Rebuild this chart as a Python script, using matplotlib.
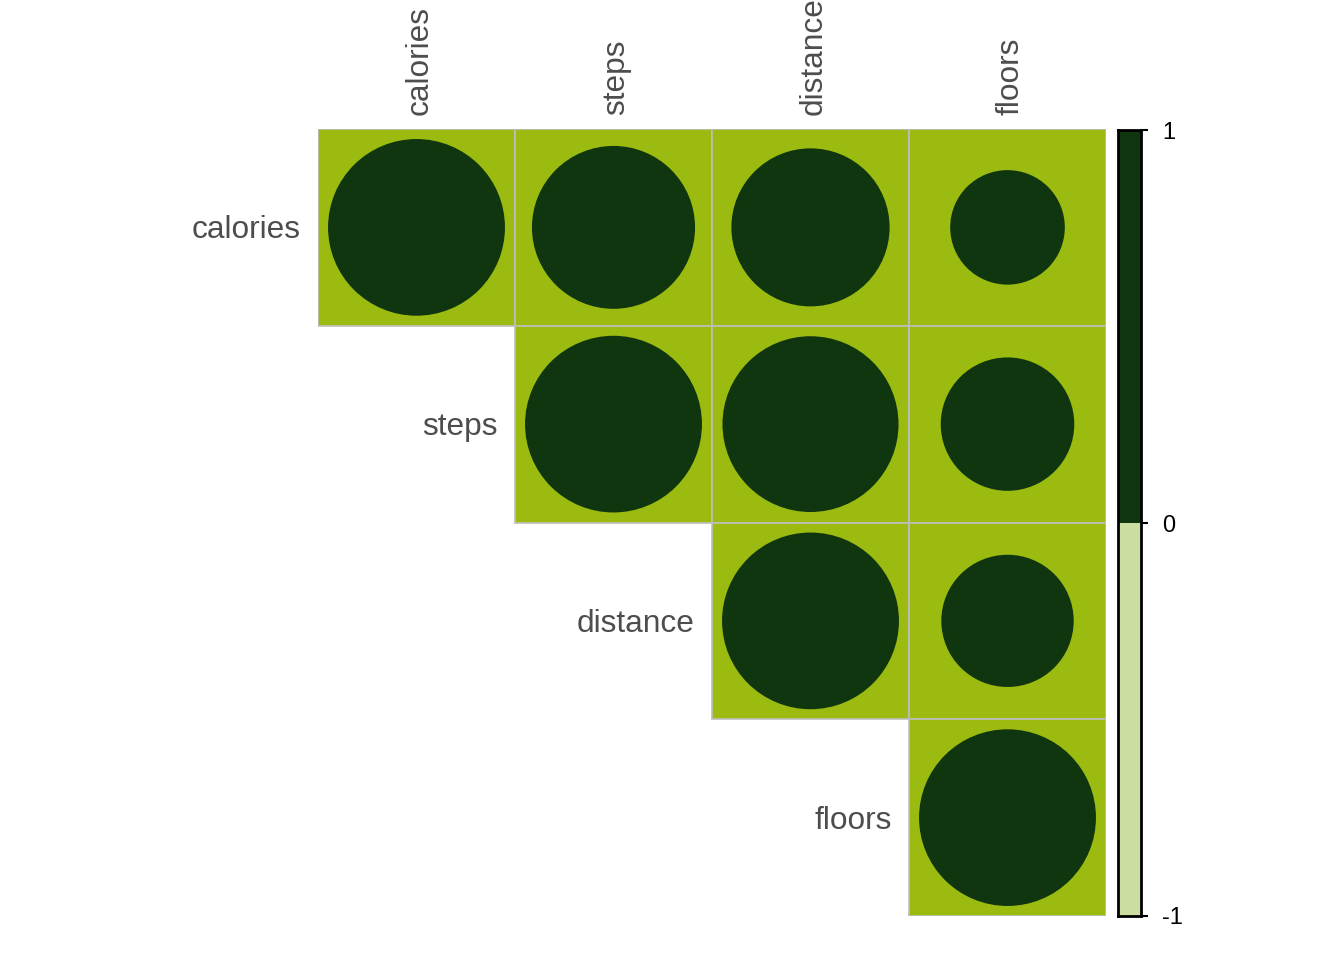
import numpy as np
import matplotlib.pyplot as plt
from matplotlib.patches import Circle, Rectangle

plt.rcParams['font.family'] = ['Liberation Sans', 'DejaVu Sans']

variables = ['calories', 'steps', 'distance', 'floors']
# upper triangle of the correlation matrix, row by row
corr = np.array([
    [1.00, 0.85, 0.80, 0.42],
    [0.85, 1.00, 0.99, 0.57],
    [0.80, 0.99, 1.00, 0.56],
    [0.42, 0.57, 0.56, 1.00],
])
bar_ticks = [-1, 0, 1]

cell_bg = '#9CBB10'
pos_col = '#10360F'
neg_col = '#CCDDA2'
grid_col = '#BEBEBE'
label_col = '#4D4D4D'

W, H = 1344, 960
fig = plt.figure(figsize=(W / 100, H / 100), dpi=100)

# main grid axes: x 318..1106, y 129..916 in pixels
ax = fig.add_axes([318 / W, (H - 916) / H, 788 / W, 787 / H])
ax.set_xlim(-0.5, 3.5)
ax.set_ylim(3.5, -0.5)
ax.axis('off')

n = len(variables)
for i in range(n):
    for j in range(i, n):
        ax.add_patch(Rectangle((j - 0.5, i - 0.5), 1, 1, facecolor=cell_bg,
                               edgecolor=grid_col, linewidth=1.2, zorder=1))
        r = corr[i, j]
        ax.add_patch(Circle((j, i), 0.449 * np.sqrt(abs(r)),
                            facecolor=pos_col if r >= 0 else neg_col,
                            edgecolor='none', zorder=2))

for i, name in enumerate(variables):
    # row label, left of the diagonal cell
    ax.annotate(name, xy=(i - 0.5, i), xytext=(-17, -3), textcoords='offset pixels',
                ha='right', va='center', fontsize=22.8, color=label_col)
    # column label on top, rotated
    ax.annotate(name, xy=(i, -0.5), xytext=(3, 14), textcoords='offset pixels',
                ha='center', va='bottom', rotation=90, fontsize=22.8, color=label_col)

# colour bar: x 1118..1141, y 130..916
cax = fig.add_axes([1118 / W, (H - 916) / H, 23 / W, 786 / H])
cax.set_xlim(0, 1)
cax.set_ylim(bar_ticks[0], bar_ticks[-1])
cax.bar(0.5, bar_ticks[1] - bar_ticks[0], bottom=bar_ticks[0], width=1, color=neg_col)
cax.bar(0.5, bar_ticks[2] - bar_ticks[1], bottom=bar_ticks[1], width=1, color=pos_col)
for s in cax.spines.values():
    s.set_linewidth(2)
    s.set_color('black')
cax.set_xticks([])
cax.yaxis.tick_right()
cax.set_yticks(bar_ticks)
cax.set_yticklabels([str(t) for t in bar_ticks])
cax.tick_params(axis='y', length=5, width=1.5, labelsize=17, pad=10, colors='black')

fig.savefig('out.png', dpi=100)
